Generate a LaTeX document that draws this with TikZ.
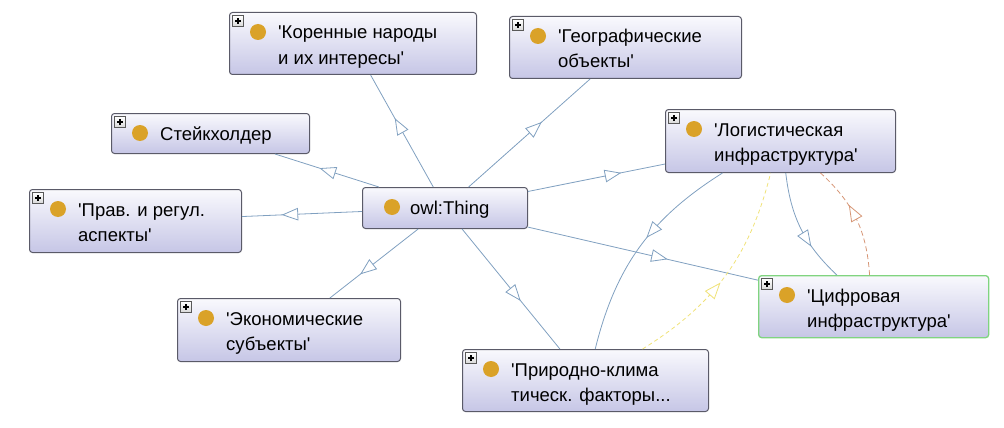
\documentclass[tikz,border=0pt]{standalone}
\usepackage{fontspec}
\setmainfont{Liberation Sans}[Ligatures=TeXOff]
\usetikzlibrary{calc,decorations.markings}
\definecolor{edgeblue}{RGB}{128,160,192}
\definecolor{edgeyellow}{RGB}{240,226,120}
\definecolor{edgeorange}{RGB}{214,150,118}
\definecolor{boxborder}{RGB}{90,90,104}
\definecolor{boxtop}{RGB}{249,249,253}
\definecolor{boxbottom}{RGB}{198,198,230}
\definecolor{classdot}{RGB}{218,162,40}
\definecolor{selgreen}{RGB}{128,212,128}
\newcommand{\trimark}[1]{\draw[solid, draw=#1, fill=white, line width=0.8pt, line join=miter] (7.5pt,0pt) -- (-7.5pt,5.8pt) -- (-7.5pt,-5.8pt) -- cycle;}
\tikzset{
  classbox/.style={draw=boxborder, line width=1pt, rounded corners=3pt, top color=boxtop, bottom color=boxbottom, inner sep=0pt, anchor=north west},
  dot/.style={circle, fill=classdot, minimum size=16pt, inner sep=0pt},
  plusicon/.style={draw=gray!70!black, top color=white, bottom color=gray!30, minimum size=10.5pt, inner sep=0pt, line width=0.6pt,
    path picture={\draw[black, line width=1.1pt] ([xshift=-3pt]path picture bounding box.center) -- ([xshift=3pt]path picture bounding box.center) ([yshift=-3pt]path picture bounding box.center) -- ([yshift=3pt]path picture bounding box.center);}},
  lbl/.style={font=\fontsize{18.5}{22}\selectfont, anchor=base west, inner sep=0pt, text=black},
  edge/.style={draw=edgeblue, line width=0.8pt},
  midtri/.style={decoration={markings, mark=at position 0.5 with {\trimark{edgeblue}}}, decorate},
}
\newcommand{\classnode}[8]{%
  \node[classbox, #6, minimum width=#4pt, minimum height=#5pt] (#1) at (#2,-#3) {};
  \node[plusicon] (#1-p) at ($(#1.north west)+(9,-9)$) {};
  \node[dot] (#1-d) at ($(#1.north west)+(29,-20)$) {};
  \node[lbl] (#1-a) at ($(#1.north west)+(49,-27)$) {#7};
  \node[lbl] (#1-b) at ($(#1.north west)+(49,-52)$) {#8};
}
\begin{document}
\begin{tikzpicture}[x=1pt,y=1pt]
\useasboundingbox (0,0) rectangle (1004,-428);
% class boxes
\classnode{kor}{229}{12}{247}{62}{}{'Коренные народы}{и их интересы'}
\classnode{geo}{509}{16}{232}{62}{}{'Географические}{объекты'}
\classnode{prav}{29}{189}{212}{63}{}{'Прав. и регул.}{аспекты'}
\classnode{log}{665}{109}{230}{63}{}{'Логистическая}{инфраструктура'}
\classnode{cif}{758}{275}{230}{62}{draw=selgreen, line width=1.3pt}{'Цифровая}{инфраструктура'}
\classnode{eco}{177}{298}{223}{63}{}{'Экономические}{субъекты'}
\classnode{pri}{462}{349}{246}{62}{}{'Природно-клима}{тическ. факторы...}
% one-line boxes
\node[classbox, minimum width=198pt, minimum height=40pt] (stk) at (111,-113) {};
\node[plusicon] (stk-p) at ($(stk.north west)+(9,-9)$) {};
\node[dot] (stk-d) at ($(stk.north west)+(29,-20)$) {};
\node[lbl] (stk-a) at ($(stk.north west)+(49,-27)$) {Стейкхолдер};
\node[classbox, minimum width=165pt, minimum height=41pt] (thing) at (362,-187) {};
\node[dot] (thing-d) at ($(thing.north west)+(30,-20)$) {};
\node[lbl] (thing-a) at ($(thing.north west)+(48,-27)$) {owl:Thing};
% straight edges from owl:Thing
\foreach \c in {kor,geo,stk,prav,eco,pri,log,cif}{
  \draw[edge] (thing) -- (\c);
  \path[midtri] (thing.center) -- (\c.center);
}
% curved edges
\draw[edge, postaction={decorate}, decoration={markings, mark=at position 0.41 with {\trimark{edgeblue}}}] (log) to[bend right=22] (pri);
\draw[edge, postaction={decorate}, decoration={markings, mark=at position 0.6 with {\trimark{edgeblue}}}] (log) to[bend right=20] (cif);
\draw[draw=edgeorange, line width=0.8pt, dash pattern=on 5pt off 3pt, postaction={decorate}, decoration={markings, mark=at position 0.56 with {\trimark{edgeorange}}}] (cif) to[bend right=22] (log);
\draw[draw=edgeyellow, line width=0.8pt, dash pattern=on 4pt off 3pt, postaction={decorate}, decoration={markings, mark=at position 0.42 with {\trimark{edgeyellow}}}] (pri) to[bend right=22] (log);
\end{tikzpicture}
\end{document}
